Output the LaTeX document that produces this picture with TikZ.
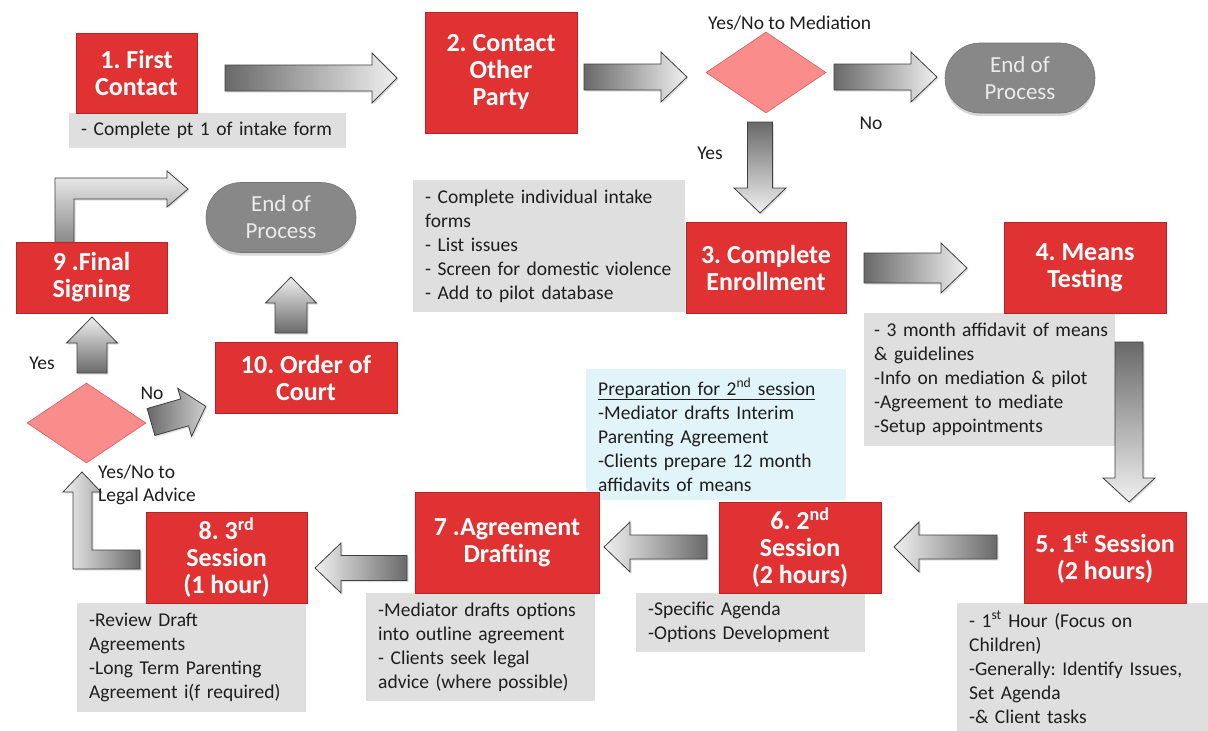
\documentclass[tikz,border=0pt]{standalone}
\usepackage{fontspec}
\setmainfont{Carlito}
\usetikzlibrary{shapes.geometric,shapes.misc,shadows}
\frenchspacing
\definecolor{boxred}{RGB}{224,50,50}
\definecolor{boxredline}{RGB}{185,35,35}
\definecolor{notegray}{RGB}{223,223,223}
\definecolor{noteblue}{RGB}{224,244,250}
\definecolor{endgray}{RGB}{136,136,136}
\definecolor{endline}{RGB}{118,118,118}
\definecolor{diapink}{RGB}{250,140,140}
\definecolor{dialine}{RGB}{215,95,95}
\definecolor{adark}{RGB}{105,105,105}
\definecolor{alight}{RGB}{240,240,240}
\definecolor{txt}{RGB}{30,30,30}
\newcommand\bodyfont{\fontsize{19.5}{24}\selectfont\frenchspacing}
\newcommand\headfont{\bfseries\fontsize{26}{27}\selectfont}
% block arrows: right / left: tail x, tip x, centre y, shaft half, head half, head length
\newcommand\blkR[6]{\path[blk, shade, left color=adark, right color=alight]
  ({#1},{#3-#4}) -- ({#2-#6},{#3-#4}) -- ({#2-#6},{#3-#5}) -- ({#2},{#3}) -- ({#2-#6},{#3+#5}) -- ({#2-#6},{#3+#4}) -- ({#1},{#3+#4}) -- cycle;}
\newcommand\blkL[6]{\path[blk, shade, left color=alight, right color=adark]
  ({#1},{#3-#4}) -- ({#2+#6},{#3-#4}) -- ({#2+#6},{#3-#5}) -- ({#2},{#3}) -- ({#2+#6},{#3+#5}) -- ({#2+#6},{#3+#4}) -- ({#1},{#3+#4}) -- cycle;}
% down / up: centre x, tail y, tip y, shaft half, head half, head length
\newcommand\blkD[6]{\path[blk, shade, top color=adark, bottom color=alight]
  ({#1-#4},{#2}) -- ({#1-#4},{#3-#6}) -- ({#1-#5},{#3-#6}) -- ({#1},{#3}) -- ({#1+#5},{#3-#6}) -- ({#1+#4},{#3-#6}) -- ({#1+#4},{#2}) -- cycle;}
\newcommand\blkU[6]{\path[blk, shade, bottom color=adark, top color=alight]
  ({#1-#4},{#2}) -- ({#1-#4},{#3+#6}) -- ({#1-#5},{#3+#6}) -- ({#1},{#3}) -- ({#1+#5},{#3+#6}) -- ({#1+#4},{#3+#6}) -- ({#1+#4},{#2}) -- cycle;}
\tikzset{
  redbox/.style={rectangle, fill=boxred, draw=boxredline, line width=0.8pt, text=white,
    font=\headfont, align=center, inner sep=0pt},
  note/.style={rectangle, fill=notegray, anchor=north west, inner xsep=12pt, inner ysep=0pt,
    align=left, font=\bodyfont, text=txt},
  endbox/.style={rounded rectangle, fill=endgray, draw=endline, line width=0.6pt,
    text=white!92!black, font=\fontsize{23}{27}\selectfont, align=center, inner sep=0pt,
    minimum width=150pt, minimum height=70pt,
    drop shadow={shadow xshift=0pt, shadow yshift=-3pt, opacity=.3}},
  decision/.style={diamond, fill=diapink, draw=dialine, line width=0.6pt, inner sep=0pt,
    minimum width=120pt, minimum height=81pt},
  lbl/.style={font=\bodyfont, text=txt, inner sep=0pt},
  blk/.style={draw=black!75, line width=0.8pt, line join=miter,
    drop shadow={shadow xshift=1.5pt, shadow yshift=-1.5pt, opacity=.25}},
}
\begin{document}
\begin{tikzpicture}[x=1pt,y=-1pt]
\useasboundingbox (0,0) rectangle (1208,731);
\fill[white] (0,0) rectangle (1208,731);

% ---- notes
\node[note, text width=253pt, minimum height=35pt] (n1) at (69,113) {- Complete pt 1 of intake form};
\node[note, text width=248pt, minimum height=132pt] (n3) at (413,180) {- Complete individual intake\\forms\\- List issues\\- Screen for domestic violence\\- Add to pilot database};
\node[note, inner xsep=10pt, text width=231pt, minimum height=133pt] (n4) at (864,313) {\mbox{- 3 month affidavit of means}\\\& guidelines\\-Info on mediation \& pilot\\-Agreement to mediate\\-Setup appointments};
\node[note, text width=227pt, minimum height=128pt] (n5) at (957,603) {- 1\textsuperscript{st} Hour (Focus on\\Children)\\-Generally: Identify Issues,\\Set Agenda\\-\& Client tasks};
\node[note, text width=205pt, minimum height=59pt] (n6) at (636,593) {-Specific Agenda\\-Options Development};
\node[note, text width=205pt, minimum height=108pt] (n7) at (366,593) {-Mediator drafts options\\into outline agreement\\- Clients seek legal\\advice (where possible)};
\node[note, text width=205pt, minimum height=109pt] (n8) at (77,603) {-Review Draft\\Agreements\\-Long Term Parenting\\Agreement i(f required)};
\node[note, fill=noteblue, text width=236pt, minimum height=131pt] (prep) at (586,369) {\underline{Preparation for 2\textsuperscript{nd} session}\\-Mediator drafts Interim\\Parenting Agreement\\-Clients prepare 12 month\\affidavits of means};

% ---- block arrows
\blkR{225}{397}{78}{13}{25}{25}
\blkR{584}{687}{77}{13}{25}{26}
\blkR{834}{937}{77}{13}{25}{26}
\blkD{760}{122}{213}{12.5}{26}{25}
\blkR{864}{967}{268}{15}{25}{26}
\blkD{1129}{342}{502}{14}{26}{24}
\blkL{997}{894}{547}{12}{25}{25}
\blkL{707}{604}{547}{12}{25}{26}
\blkL{407}{315}{568}{12.5}{25}{26}
\blkU{92}{373}{317}{15}{25.5}{26}
\blkU{291}{333}{277}{16}{25.5}{26}
% L-shaped arrow from session 8 up to the legal advice decision
\path[blk, shade, left color=alight, right color=adark]
  (140,550) -- (92,550) -- (92,492) -- (101,492) -- (82,472) -- (63,492) -- (73,492)
  -- (73,569) -- (140,569) -- cycle;
% L-shaped arrow from final signing to end of process
\path[blk, shade, top color=alight, bottom color=adark!80!white]
  (55,244) -- (55,178) -- (167,178) -- (167,171) -- (188,189) -- (167,207) -- (167,199)
  -- (74,199) -- (74,244) -- cycle;
% diagonal arrow from legal advice decision to order of court
\begin{scope}[shift={(151,422)}, rotate=16]
\path[blk, shade, left color=adark, right color=alight!75!adark]
  (0,-14) -- (35,-14) -- (35,-25) -- (57,0) -- (35,25) -- (35,14) -- (0,14) -- cycle;
\end{scope}

% ---- process boxes
\node[redbox, minimum width=121pt, minimum height=80pt] (s1) at (136.5,73) {1. First\\Contact};
\node[redbox, minimum width=152pt, minimum height=121pt] (s2) at (501,72.5) {2. Contact\\Other\\Party};
\node[redbox, minimum width=160pt, minimum height=91pt] (s3) at (766,267.5) {3. Complete\\Enrollment};
\node[redbox, minimum width=162pt, minimum height=91pt] (s4) at (1085,267.5) {4. Means\\Testing};
\node[redbox, minimum width=162pt, minimum height=91pt] (s5) at (1105,557.5) {5. 1\textsuperscript{st} Session\\(2 hours)};
\node[redbox, minimum width=162pt, minimum height=91pt] (s6) at (800,547.5) {6. 2\textsuperscript{nd}\\Session\\(2 hours)};
\node[redbox, minimum width=184pt, minimum height=101pt] (s7) at (507,542.5) {7 .Agreement\\Drafting};
\node[redbox, minimum width=161pt, minimum height=91pt] (s8) at (226.5,557.5) {8. 3\textsuperscript{rd}\\Session\\(1 hour)};
\node[redbox, minimum width=151pt, minimum height=71pt] (s9) at (91.5,277.5) {9 .Final\\Signing};
\node[redbox, minimum width=182pt, minimum height=71pt] (s10) at (306,377.5) {10. Order of\\Court};

% ---- decisions and terminals
\node[decision] (d1) at (766,72.5) {};
\node[decision, minimum width=119pt, minimum height=80pt] (d2) at (86.5,423) {};
\node[endbox] (e1) at (1020,78) {End of\\Process};
\node[endbox] (e2) at (281,217.5) {End of\\Process};

% ---- labels
\node[lbl, anchor=west] (l1) at (708,23) {Yes/No to Mediation};
\node[lbl] (l2) at (710,153) {Yes};
\node[lbl] (l3) at (871,123) {No};
\node[lbl] (l4) at (42,363) {Yes};
\node[lbl] (l5) at (152,393) {No};
\node[lbl, anchor=west, align=left, font=\fontsize{19.5}{23}\selectfont] (l6) at (98,484.5) {Yes/No to\\Legal Advice};
\end{tikzpicture}
\end{document}
